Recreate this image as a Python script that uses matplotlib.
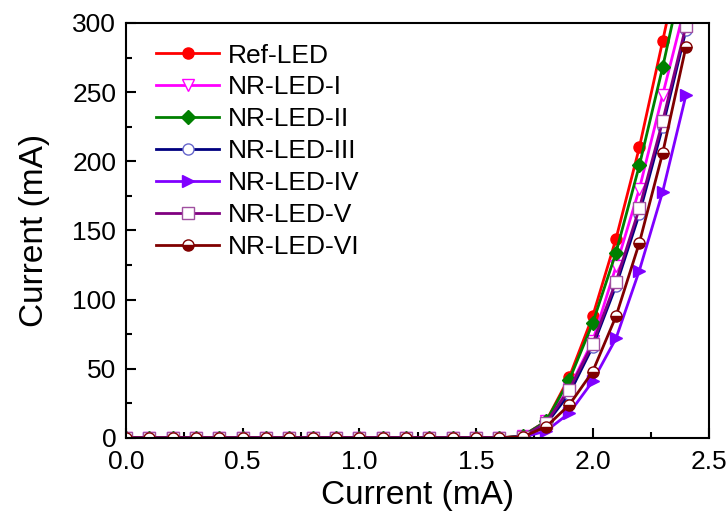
import numpy as np
import matplotlib
matplotlib.use("Agg")
import matplotlib.pyplot as plt
from matplotlib.ticker import MultipleLocator

plt.rcParams["font.family"] = ["Liberation Sans", "DejaVu Sans"]

# bias current steps (mA)
current = [0.0, 0.1, 0.2, 0.3, 0.4, 0.5, 0.6, 0.7, 0.8, 0.9, 1.0, 1.1, 1.2,
           1.3, 1.4, 1.5, 1.6, 1.7, 1.8, 1.9, 2.0, 2.1, 2.2, 2.3, 2.4]
zeros = [0.0] * 17

ref_led = zeros + [1.5, 12, 44, 88, 144, 210, 287, 365]
nr_led_1 = zeros + [1.2, 12, 36, 70, 124, 180, 248, 315]
nr_led_2 = zeros + [1.5, 12, 42, 83, 134, 197, 268, 345]
nr_led_3 = zeros + [1.0, 10, 32, 66, 110, 162, 225, 295]
nr_led_4 = zeros + [0.5, 5, 18, 41, 72, 121, 178, 248]
nr_led_5 = zeros + [1.0, 11, 35, 68, 113, 166, 229, 298]
nr_led_6 = zeros + [0.8, 8, 24, 48, 88, 141, 206, 283]

SERIES = [
    ("Ref-LED", ref_led, "#FF0000", dict(marker="o", mfc="#FF0000")),
    ("NR-LED-I", nr_led_1, "#FF00FF", dict(marker="v", mfc="white")),
    ("NR-LED-II", nr_led_2, "#008000", dict(marker="D", mfc="#008000", ms=7)),
    ("NR-LED-III", nr_led_3, "#000080", dict(marker="o", mfc="white", mec="#6666CC")),
    ("NR-LED-IV", nr_led_4, "#8000FF", dict(marker=">", mfc="#8000FF")),
    ("NR-LED-V", nr_led_5, "#800080", dict(marker="s", mfc="white", mec="#A050A0")),
    ("NR-LED-VI", nr_led_6, "#800000", dict(marker="o", mfc="#800000",
                                           fillstyle="bottom",
                                           markerfacecoloralt="white")),
]

fig = plt.figure(figsize=(7.27, 5.11), dpi=100)
ax = fig.add_axes([0.1733, 0.1429, 0.8024, 0.8121])

for label, values, colour, style in SERIES:
    opts = dict(ms=8, mec=colour, mew=1.0)
    opts.update(style)
    ax.plot(current, values, color=colour, lw=2, label=label, **opts)

ax.set_xlim(0, 2.5)
ax.set_ylim(0, 300)
ax.xaxis.set_major_locator(MultipleLocator(0.5))
ax.xaxis.set_minor_locator(MultipleLocator(0.25))
ax.yaxis.set_major_locator(MultipleLocator(50))
ax.yaxis.set_minor_locator(MultipleLocator(25))
ax.tick_params(which="both", direction="in", width=1.5, labelsize=19,
               top=False, right=False)
ax.tick_params(which="major", length=7)
ax.tick_params(which="minor", length=4)
ax.tick_params(axis="x", which="major", pad=9)
ax.tick_params(axis="y", which="major", pad=7)
for spine in ax.spines.values():
    spine.set_linewidth(1.5)

ax.set_xlabel("Current (mA)", fontsize=24, labelpad=4)
ax.set_ylabel("Current (mA)", fontsize=24, labelpad=16)

ax.legend(loc="upper left", fontsize=19, frameon=False, numpoints=1,
          handlelength=2.4, handletextpad=0.3, labelspacing=0.3,
          borderaxespad=0.3, bbox_to_anchor=(0.02, 0.995))

fig.savefig("out.png", dpi=100)
